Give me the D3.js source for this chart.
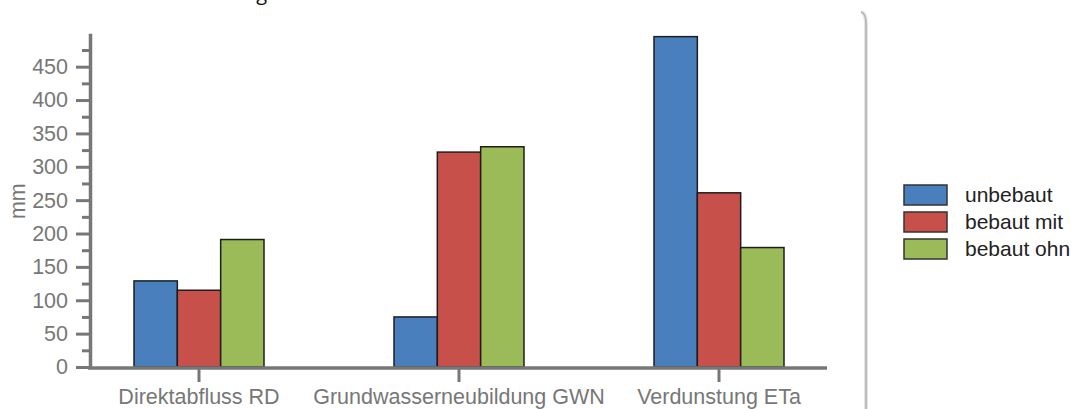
<!DOCTYPE html>
<html>
<head>
<meta charset="utf-8">
<script src="https://cdn.jsdelivr.net/npm/d3@7"></script>
<style>
  html, body { margin: 0; padding: 0; background: #fff; }
  svg { display: block; }
</style>
</head>
<body>
<svg id="chart" width="1073" height="409"></svg>
<script>
const categories = ["Direktabfluss RD", "Grundwasserneubildung GWN", "Verdunstung ETa"];
const seriesNames = ["unbebaut", "bebaut mit", "bebaut ohn"];
const unbebaut = [129, 75, 495];
const bebautMit = [115, 322, 261];
const bebautOhn = [191, 330, 179];
const seriesValues = [unbebaut, bebautMit, bebautOhn];
const seriesColors = ["#4a7fbd", "#c8504b", "#9bbb59"];
const majorTicks = [0, 50, 100, 150, 200, 250, 300, 350, 400, 450];
const minorTicks = [25, 75, 125, 175, 225, 275, 325, 375, 425, 475];
const yLabel = "mm";
const titleText = "Wasserbilanz bei Bebauung";

const svg = d3.select("#chart");
const axisColor = "#777";
const font = "'Liberation Sans', Arial, sans-serif";
const fs = 21.5;

const x0 = d3.scaleBand().domain(categories).range([69, 849]).padding(0);
const x1 = d3.scaleBand().domain(seriesNames).range([-65, 65]).padding(0);
const y = d3.scaleLinear().domain([0, 500]).range([367, 33.3]);

// cut-off title at top
svg.append("text")
  .attr("x", 267).attr("y", 0)
  .attr("text-anchor", "end")
  .attr("font-family", "'Open Sans', sans-serif")
  .attr("font-size", 20)
  .attr("fill", "#111")
  .text(titleText);

// bars
const groups = svg.append("g").selectAll("g")
  .data(categories).join("g")
  .attr("transform", d => `translate(${x0(d) + x0.bandwidth() / 2},0)`);

groups.selectAll("rect")
  .data((c, i) => seriesNames.map((s, j) => ({ s, j, v: seriesValues[j][i] })))
  .join("rect")
  .attr("x", d => x1(d.s))
  .attr("width", x1.bandwidth())
  .attr("y", d => y(d.v))
  .attr("height", d => y(0) - y(d.v))
  .attr("fill", d => seriesColors[d.j])
  .attr("stroke", "#1e1e1e")
  .attr("stroke-width", 1.5);

// y axis minor ticks
const yMinor = svg.append("g").attr("transform", "translate(90,0)")
  .call(d3.axisLeft(y).tickValues(minorTicks).tickSize(8).tickFormat(""));
// y axis major
const yMajor = svg.append("g").attr("transform", "translate(90,0)")
  .call(d3.axisLeft(y).tickValues(majorTicks).tickSize(14).tickSizeOuter(0).tickPadding(8));

[yMinor, yMajor].forEach(g => {
  g.selectAll("path.domain").attr("stroke", axisColor).attr("stroke-width", 3.5);
  g.selectAll(".tick line").attr("stroke", axisColor).attr("stroke-width", 3);
  g.selectAll(".tick text").attr("fill", axisColor)
    .attr("font-family", font).attr("font-size", fs);
});
yMinor.select("path.domain").remove();

// x axis
const xAxis = svg.append("g").attr("transform", `translate(0,${y(0) + 1})`)
  .call(d3.axisBottom(x0).tickSize(14).tickSizeOuter(0).tickPadding(7));
xAxis.select("path.domain").remove();
xAxis.selectAll(".tick line").attr("stroke", axisColor).attr("stroke-width", 3);
xAxis.selectAll(".tick text").attr("fill", axisColor)
  .attr("font-family", font).attr("font-size", fs);
xAxis.append("line")
  .attr("x1", 88).attr("x2", 827).attr("y1", 0).attr("y2", 0)
  .attr("stroke", axisColor).attr("stroke-width", 3.5);

// y label
svg.append("text")
  .attr("transform", `translate(25,${(y(0) + y(500)) / 2 + 1}) rotate(-90)`)
  .attr("text-anchor", "middle")
  .attr("font-family", font).attr("font-size", fs)
  .attr("fill", axisColor)
  .text(yLabel);

// right panel border
svg.append("path")
  .attr("d", "M861 12 Q866 13 866 24 L866 409")
  .attr("fill", "none").attr("stroke", "#e6e6e6").attr("stroke-width", 4);
svg.append("path")
  .attr("d", "M861 12 Q866 13 866 24 L866 409")
  .attr("fill", "none").attr("stroke", "#b5b5b5").attr("stroke-width", 1.6);

// legend
const legend = svg.append("g").attr("transform", "translate(904,185)");
const li = legend.selectAll("g").data(seriesNames).join("g")
  .attr("transform", (d, i) => `translate(0,${i * 27})`);
li.append("rect")
  .attr("x", 0).attr("y", 0).attr("width", 43).attr("height", 20)
  .attr("fill", (d, i) => seriesColors[i])
  .attr("stroke", "#333").attr("stroke-width", 1.5);
li.append("text")
  .attr("x", 61).attr("y", 10).attr("dy", "0.35em")
  .attr("font-family", font).attr("font-size", 21)
  .attr("fill", "#222")
  .text(d => d);
</script>
</body>
</html>
